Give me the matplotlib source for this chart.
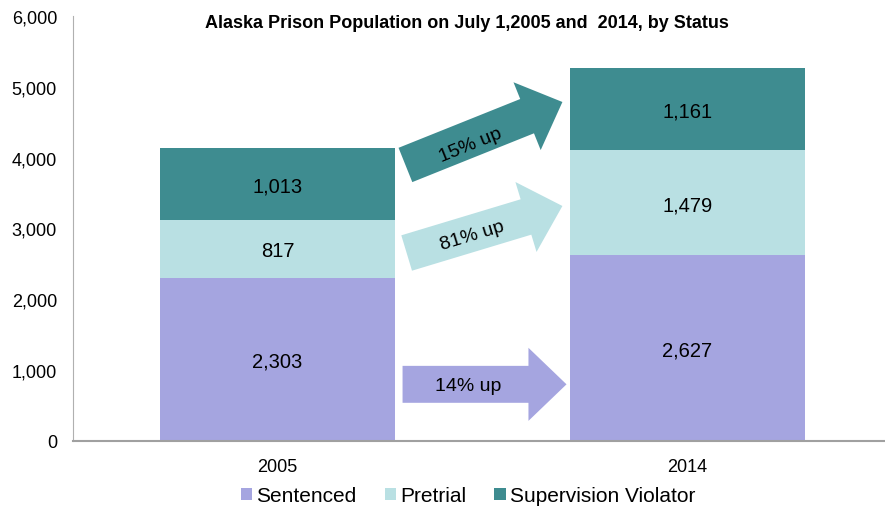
import matplotlib.pyplot as plt
import matplotlib.ticker as mticker

plt.rcParams['font.family'] = ['Liberation Sans', 'DejaVu Sans']

# data
years = ['2005', '2014']
sentenced = [2303, 2627]
pretrial = [817, 1479]
violator = [1013, 1161]
status = ['Sentenced', 'Pretrial', 'Supervision Violator']
changes = ['14% up', '81% up', '15% up']
colors = ['#A5A5E0', '#B9E0E3', '#3E8C90']

fig = plt.figure(figsize=(8.85, 5.1), dpi=100)
ax = fig.add_axes([73 / 885, 68 / 510, 1 - 73 / 885, (442 - 17) / 510])

x = list(range(len(years)))
w = 0.575
bottoms = [0, 0]
series = [sentenced, pretrial, violator]
for vals, lab, col in zip(series, status, colors):
    ax.bar(x, vals, w, bottom=bottoms, color=col, label=lab, zorder=2)
    for xi, v, b in zip(x, vals, bottoms):
        ax.text(xi, b + v / 2, f'{v:,}', ha='center', va='center_baseline', fontsize=14.5,
                color='black')
    bottoms = [b + v for b, v in zip(bottoms, vals)]

ax.set_xlim(-0.499, 1.482)
ax.set_ylim(0, 6000)
ax.yaxis.set_major_locator(mticker.MultipleLocator(1000))
ax.yaxis.set_major_formatter(mticker.FuncFormatter(lambda v, p: f'{int(v):,}'))
ax.set_xticks(x)
ax.set_xticklabels(years, fontsize=13)
ax.tick_params(axis='y', labelsize=13, length=0, pad=11.5)
ax.tick_params(axis='x', length=0, pad=12)
for s in ['top', 'right']:
    ax.spines[s].set_visible(False)
ax.spines['left'].set_color('#B0B0B0')
ax.spines['bottom'].set_color('#A0A0A0')
ax.spines['bottom'].set_linewidth(1.5)

# growth arrows between the bars: (start, end, text center, angle)
arrow_pos = [
    ((0.305, 800), (0.705, 800), (0.465, 780), 0),
    ((0.315, 2654), (0.695, 3318), (0.475, 2900), 17),
    ((0.312, 3897), (0.695, 4786), (0.470, 4180), 22),
]
style = 'simple,head_length=1.37,head_width=2.63,tail_width=1.33'
for (start, end, tc, ang), col, txt in zip(arrow_pos, colors, changes):
    ax.annotate('', xy=end, xytext=start,
                arrowprops=dict(arrowstyle=style, fc=col, ec='none', mutation_scale=20,
                                shrinkA=0, shrinkB=0), zorder=3)
    ax.text(tc[0], tc[1], txt, rotation=ang, ha='center', va='center', fontsize=14,
            rotation_mode='anchor', zorder=4)

fig.text(467 / 885, 1 - 23 / 510, 'Alaska Prison Population on July 1,2005 and  2014, by Status',
         ha='center', va='center', fontsize=13, fontweight='bold')

fig.legend(loc='center', bbox_to_anchor=(468 / 885, 1 - 497 / 510), ncol=3, frameon=False,
           fontsize=15, handlelength=0.55, handleheight=0.55, handletextpad=0.2, columnspacing=1.35)

fig.savefig('out.png', dpi=100)
